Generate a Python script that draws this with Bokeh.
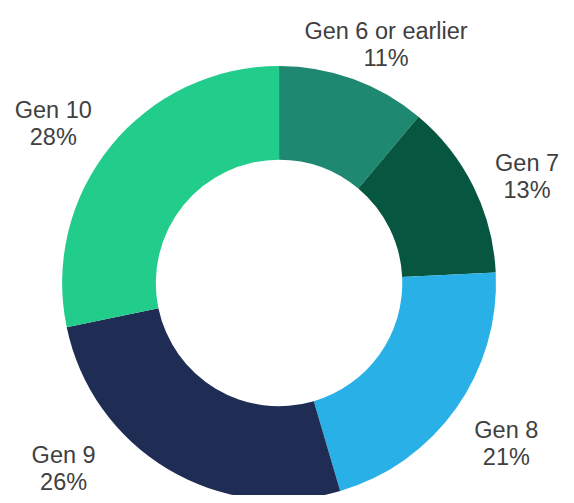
import math
from bokeh.plotting import figure
from bokeh.models import Range1d, ColumnDataSource
from bokeh.core.properties import value
from bokeh.embed import file_html
from bokeh.resources import INLINE

# ---- data ----
categories = ["Gen 6 or earlier", "Gen 7", "Gen 8", "Gen 9", "Gen 10"]
shares = [11, 13, 21, 26, 28]
colors = ["#1f8870", "#065640", "#29b1e7", "#1f2d54", "#22cc8b"]

# ---- layout (reference pixels, scaled to the canvas) ----
W, H = 566, 495
REF_W, REF_H = 574, 503
SX, SY = W / REF_W, H / REF_H
cx_s, cy_s = 282.5, 287.0
R_OUT, R_IN = 220, 125
# label anchors: (center x, first-line baseline y) in reference pixels
label_pos = [(391, 31), (534, 165), (513, 436.7), (64, 461.7), (53.5, 111.7)]
LINE_GAP = 27.5
FONT = "Liberation Sans"
FSIZE = "23.5px"


def dx(xs):
    return xs * SX


def dy(ys):
    return H - ys * SY


total = sum(shares)
starts, ends = [], []
cum = 0.0
for v in shares:
    a0 = cum / total * 2 * math.pi
    cum += v
    a1 = cum / total * 2 * math.pi
    # clockwise from top
    starts.append(math.pi / 2 - a1)
    ends.append(math.pi / 2 - a0)

src = ColumnDataSource(dict(cat=categories, share=shares, color=colors,
                            start=starts, end=ends))

p = figure(width=W, height=H, output_backend="svg", toolbar_location=None,
           x_range=Range1d(0, W), y_range=Range1d(0, H), min_border=0)
p.axis.visible = False
p.grid.visible = False
p.outline_line_color = None
p.background_fill_color = "white"
p.border_fill_color = "white"

p.annular_wedge(x=dx(cx_s), y=dy(cy_s), inner_radius=R_IN * SX,
                outer_radius=R_OUT * SX,
                start_angle="start", end_angle="end", color="color",
                line_color=None, source=src)

lx = [dx(a) for a, b in label_pos]
ly1 = [dy(b) for a, b in label_pos]
ly2 = [dy(b + LINE_GAP) for a, b in label_pos]
pct = [f"{v}%" for v in shares]

p.text(x=lx, y=ly1, text=categories, text_align="center",
       text_baseline="alphabetic", text_font=value(FONT),
       text_font_size=FSIZE, text_color="#404040")
p.text(x=lx, y=ly2, text=pct, text_align="center",
       text_baseline="alphabetic", text_font=value(FONT),
       text_font_size=FSIZE, text_color="#404040")

open("out.html", "w").write(file_html(p, INLINE))
